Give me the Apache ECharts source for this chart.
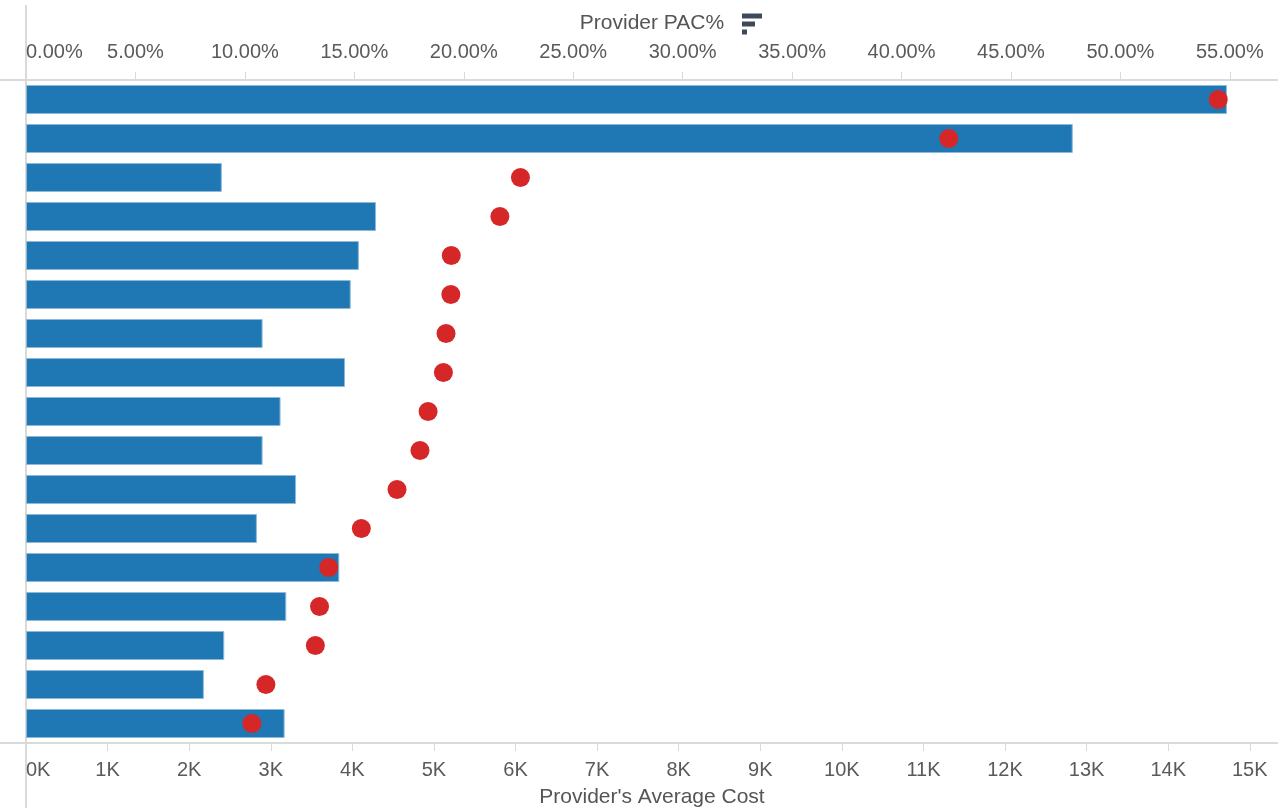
<!DOCTYPE html>
<html>
<head>
<meta charset="utf-8">
<script src="https://cdn.jsdelivr.net/npm/echarts@6/dist/echarts.min.js"></script>
<style>
html,body{margin:0;padding:0;background:#fff;}
#chart{width:1278px;height:808px;}
</style>
</head>
<body>
<div id="chart"></div>
<script>
// Rows (providers), top to bottom, sorted by Provider PAC% descending
const providers = ['P1','P2','P3','P4','P5','P6','P7','P8','P9','P10','P11','P12','P13','P14','P15','P16','P17'];
// Provider PAC% (red dots, top axis)
const pacPercent = [54.47, 42.16, 22.59, 21.65, 19.43, 19.41, 19.19, 19.07, 18.37, 18.00, 16.95, 15.32, 13.83, 13.41, 13.22, 10.96, 10.32];
// Provider's Average Cost (blue bars, bottom axis)
const avgCost = [14720, 12830, 2400, 4290, 4080, 3980, 2900, 3910, 3120, 2900, 3310, 2830, 3840, 3190, 2430, 2180, 3170];

const topAxisTitle = 'Provider PAC%';
const bottomAxisTitle = "Provider's Average Cost";

const FONT = "'Liberation Sans', Arial, sans-serif";
const LABEL_COLOR = '#5a5a5a';
const LINE_COLOR = '#dadada';

const chart = echarts.init(document.getElementById('chart'), null, {renderer: 'canvas'});

const option = {
  animation: false,
  backgroundColor: '#ffffff',
  grid: {left: 26, right: 0, top: 80, bottom: 65, containLabel: false, outerBoundsMode: 'none'},
  xAxis: [
    {
      type: 'value',
      position: 'top',
      min: 0,
      max: 57.2,
      interval: 5,
      name: topAxisTitle,
      nameLocation: 'middle',
      nameGap: 46,
      nameTextStyle: {fontFamily: FONT, fontSize: 21, color: '#555'},
      axisLine: {show: true, lineStyle: {color: LINE_COLOR, width: 2}},
      axisTick: {show: true, length: 8, lineStyle: {color: LINE_COLOR, width: 1}},
      splitLine: {show: false},
      axisLabel: {
        fontFamily: FONT, fontSize: 20, color: LABEL_COLOR, margin: 18,
        showMaxLabel: false, alignMinLabel: 'left',
        formatter: v => v.toFixed(2) + '%'
      }
    },
    {
      type: 'value',
      position: 'bottom',
      min: 0,
      max: 15346,
      interval: 1000,
      name: bottomAxisTitle,
      nameLocation: 'middle',
      nameGap: 44,
      nameTextStyle: {fontFamily: FONT, fontSize: 21, color: '#555'},
      axisLine: {show: true, lineStyle: {color: LINE_COLOR, width: 2}},
      axisTick: {show: true, length: 8, lineStyle: {color: LINE_COLOR, width: 1}},
      splitLine: {show: false},
      axisLabel: {
        fontFamily: FONT, fontSize: 20, color: LABEL_COLOR, margin: 17,
        showMaxLabel: false, alignMinLabel: 'left',
        formatter: v => (v / 1000) + 'K'
      }
    }
  ],
  yAxis: {
    type: 'category',
    data: providers,
    inverse: true,
    axisLine: {show: false},
    axisTick: {show: false},
    axisLabel: {show: false},
    splitLine: {show: false}
  },
  graphic: [
    {type: 'line', silent: true, z: 0, shape: {x1: 26, y1: 5, x2: 26, y2: 808}, style: {stroke: LINE_COLOR, lineWidth: 2}},
    {type: 'line', silent: true, z: 0, shape: {x1: 0, y1: 80, x2: 26, y2: 80}, style: {stroke: LINE_COLOR, lineWidth: 2}},
    {type: 'line', silent: true, z: 0, shape: {x1: 0, y1: 743, x2: 26, y2: 743}, style: {stroke: LINE_COLOR, lineWidth: 2}},
    // sort icon next to the top axis title
    {type: 'rect', silent: true, shape: {x: 742, y: 13.5, width: 20, height: 5}, style: {fill: '#3e4a5c'}},
    {type: 'rect', silent: true, shape: {x: 742, y: 21.5, width: 13, height: 5}, style: {fill: '#3e4a5c'}},
    {type: 'rect', silent: true, shape: {x: 742, y: 29.5, width: 5, height: 5}, style: {fill: '#3e4a5c'}}
  ],
  series: [
    {
      name: bottomAxisTitle,
      type: 'bar',
      xAxisIndex: 1,
      yAxisIndex: 0,
      data: avgCost,
      barWidth: 29,
      itemStyle: {color: '#1f77b4', borderColor: '#8dbadb', borderWidth: 1},
      z: 2
    },
    {
      name: topAxisTitle,
      type: 'scatter',
      xAxisIndex: 0,
      yAxisIndex: 0,
      data: pacPercent,
      symbol: 'circle',
      symbolSize: 19,
      itemStyle: {color: '#d62728', opacity: 1},
      z: 3
    }
  ]
};

chart.setOption(option);
</script>
</body>
</html>
